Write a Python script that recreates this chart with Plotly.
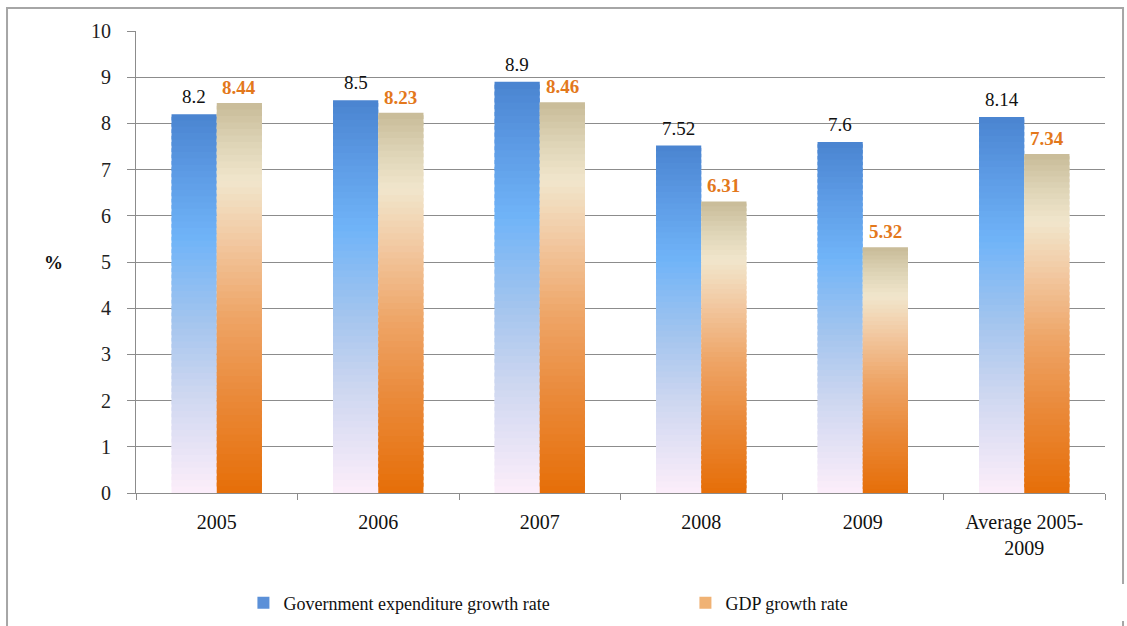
import plotly.graph_objects as go

# ---- data ----
categories = ["2005", "2006", "2007", "2008", "2009", "Average 2005-<br>2009"]
gov_growth = [8.2, 8.5, 8.9, 7.52, 7.6, 8.14]
gdp_growth = [8.44, 8.23, 8.46, 6.31, 5.32, 7.34]
series_names = ["Government expenditure growth rate", "GDP growth rate"]

# ---- styling ----
FONT = "'Liberation Serif', 'Times New Roman', serif"
BARGAP = 0.44
N_SEG = 60

# vertical gradient stops (0 = bar bottom, 1 = bar top)
GOV_STOPS = [(0.0, "#fdeefa"), (0.27, "#ccd6f0"), (0.46, "#a2c4ee"),
             (0.67, "#70b4f8"), (0.85, "#5c9ae4"), (1.0, "#4a84d0")]
GDP_STOPS = [(0.0, "#e66e08"), (0.25, "#ea8a3a"), (0.45, "#eea466"),
             (0.65, "#f2c9a2"), (0.8, "#f1e6cc"), (0.9, "#ddd3b5"), (1.0, "#c8bb98")]


def hex_to_rgb(h):
    h = h.lstrip("#")
    return tuple(int(h[i:i + 2], 16) for i in (0, 2, 4))


def interp(stops, t):
    for (t0, c0), (t1, c1) in zip(stops[:-1], stops[1:]):
        if t0 <= t <= t1:
            f = (t - t0) / (t1 - t0)
            a, b = hex_to_rgb(c0), hex_to_rgb(c1)
            return "rgb(%d,%d,%d)" % tuple(round(a[k] + (b[k] - a[k]) * f) for k in range(3))
    return stops[-1][1]


def gradient_bars(values, stops, group):
    """One bar per category, drawn as stacked slices shaded bottom-to-top."""
    xs, bases, heights, colors = [], [], [], []
    for cat, v in zip(categories, values):
        step = v / N_SEG
        for i in range(N_SEG):
            lo = step * i
            hi = min(lo + step * 1.6, v)  # slight overlap hides seams
            xs.append(cat)
            bases.append(lo)
            heights.append(hi - lo)
            colors.append(interp(stops, (i + 0.5) / N_SEG))
    return go.Bar(x=xs, y=heights, base=bases, offsetgroup=group,
                  marker=dict(color=colors, line=dict(width=0)),
                  showlegend=False, hoverinfo="skip")


fig = go.Figure()
fig.add_trace(gradient_bars(gov_growth, GOV_STOPS, "gov"))
fig.add_trace(gradient_bars(gdp_growth, GDP_STOPS, "gdp"))

# legend entries
fig.add_trace(go.Bar(x=[categories[0]], y=[None], name=series_names[0], offsetgroup="gov",
                     marker=dict(color="#5b90d8", line=dict(width=0))))
fig.add_trace(go.Bar(x=[categories[0]], y=[None], name=series_names[1], offsetgroup="gdp",
                     marker=dict(color="#f0b274", line=dict(width=0))))

# value labels above each bar
offset = (1 - BARGAP) / 4
annotations = []
for j, (g, d) in enumerate(zip(gov_growth, gdp_growth)):
    annotations.append(dict(x=j - offset, y=g, text=f"{g:g}", showarrow=False,
                            xref="x", yref="y", yanchor="bottom", yshift=5,
                            font=dict(family=FONT, size=19, color="#111111")))
    annotations.append(dict(x=j + offset, y=d, text=f"<b>{d:g}</b>", showarrow=False,
                            xref="x", yref="y", yanchor="bottom", yshift=3,
                            font=dict(family=FONT, size=19, color="#e3781c")))

# axis title
annotations.append(dict(x=-0.097, y=5, xref="paper", yref="y", text="<b>%</b>",
                        showarrow=False, font=dict(family=FONT, size=19, color="#111111")))

fig.update_layout(
    width=1127, height=626,
    margin=dict(l=136, r=22, t=31, b=133, autoexpand=False),
    paper_bgcolor="white", plot_bgcolor="white",
    barmode="group", bargap=BARGAP, bargroupgap=0,
    font=dict(family=FONT, size=18, color="#111111"),
    xaxis=dict(type="category", categoryorder="array", categoryarray=categories,
               showline=True, linecolor="#8c8c8c", linewidth=1, automargin=False,
               ticks="outside", tickson="boundaries", ticklen=6, tickcolor="#8c8c8c",
               ticklabelstandoff=11, showgrid=False,
               tickfont=dict(family=FONT, size=20, color="#111111")),
    yaxis=dict(range=[0, 10], dtick=1, showline=True, linecolor="#8c8c8c", linewidth=1,
               ticks="outside", ticklen=8, tickcolor="#8c8c8c", automargin=False,
               showgrid=True, gridcolor="#8c8c8c", gridwidth=1,
               zeroline=False, ticklabelstandoff=12,
               tickfont=dict(family=FONT, size=20, color="#222222")),
    legend=dict(orientation="h", x=0.567, xanchor="center", y=-0.238, yanchor="middle",
                font=dict(family=FONT, size=18, color="#111111"),
                entrywidth=397, entrywidthmode="pixels", traceorder="normal"),
    annotations=annotations,
    shapes=[dict(type="rect", xref="paper", yref="paper",
                 x0=-0.1331, x1=1.0186, y0=-0.32, y1=1.0498,
                 line=dict(color="#a6a6a6", width=2), fillcolor="rgba(0,0,0,0)",
                 layer="below")],
    showlegend=True,
)

fig.write_html("out.html")
